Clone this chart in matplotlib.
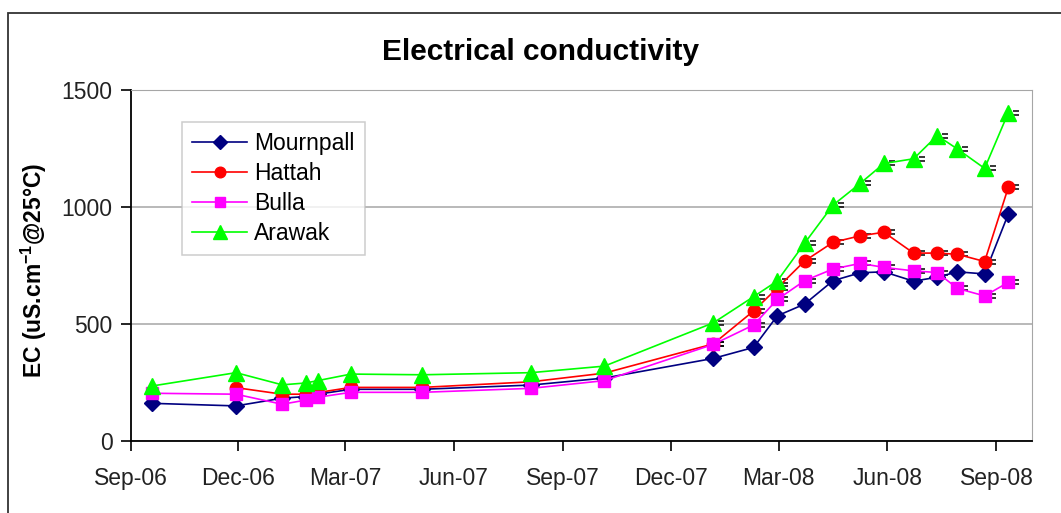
import matplotlib
matplotlib.use('Agg')
import matplotlib.pyplot as plt
import matplotlib.dates as mdates
from matplotlib.path import Path
from matplotlib.patches import Rectangle
from datetime import date
import numpy as np

plt.rcParams['font.family'] = ['Liberation Sans', 'DejaVu Sans']
plt.rcParams['mathtext.fontset'] = 'custom'
plt.rcParams['mathtext.rm'] = 'Liberation Sans:bold'
plt.rcParams['mathtext.bf'] = 'Liberation Sans:bold'

# sampling dates
datas = [date(2006, 9, 19), date(2006, 11, 29), date(2007, 1, 7), date(2007, 1, 27),
         date(2007, 2, 6), date(2007, 3, 6), date(2007, 5, 5), date(2007, 8, 5),
         date(2007, 10, 6), date(2008, 1, 6), date(2008, 2, 9), date(2008, 2, 29),
         date(2008, 3, 23), date(2008, 4, 16), date(2008, 5, 9), date(2008, 5, 29),
         date(2008, 6, 23), date(2008, 7, 13), date(2008, 7, 30), date(2008, 8, 22),
         date(2008, 9, 11)]

mournpall = [161, 150, 183, 190, 200, 221, 221, 239, 269, 353, 400, 535,
             585, 685, 719, 723, 683, 700, 723, 714, 970]
hattah = [np.nan, 228, 200, 200, 207, 229, 229, 253, 290, 415, 556, 654,
          769, 849, 877, 892, 803, 803, 798, 767, 1084]
bulla = [204, 200, 157, 175, 187, 208, 208, 225, 258, 413, 496, 605,
         685, 735, 759, 742, 727, 720, 652, 620, 678]
arawak = [235, 292, 240, 248, 258, 286, 283, 292, 320, 505, 617, 684,
          845, 1008, 1101, 1186, 1206, 1305, 1248, 1165, 1403]

series = [('Mournpall', mournpall, '#000080', 'D', 8.5),
          ('Hattah', hattah, '#ff0000', 'o', 9),
          ('Bulla', bulla, '#ff00ff', 's', 8),
          ('Arawak', arawak, '#00ff00', '^', 12)]

# small error-bar caps, seen only to the right of the markers
cap = Path([(0.45, 0.15), (1.0, 0.15), (0.45, -0.15), (1.0, -0.15)],
           [Path.MOVETO, Path.LINETO, Path.MOVETO, Path.LINETO])

fig = plt.figure(figsize=(10.61, 5.13), dpi=100)
ax = fig.add_axes([130.6 / 1061, 1 - 441 / 513, 901.4 / 1061, 351 / 513])

# outer chart frame
fig.patches.append(Rectangle((8 / 1061, -0.1), 1.2, 1 - 13 / 513 + 0.1,
                             transform=fig.transFigure, fill=False,
                             edgecolor='#333333', linewidth=1.3))

for nome, valores, cor, marcador, tam in series:
    if nome != 'Mournpall':
        ax.plot(datas, valores, linestyle='none', marker=cap, markersize=16,
                markeredgecolor='black', markeredgewidth=1.1,
                markevery=slice(9, None), zorder=2)
    ax.plot(datas, valores, color=cor, linewidth=1.2, marker=marcador,
            markersize=tam, markerfacecolor=cor, markeredgecolor=cor,
            label=nome, zorder=3)

ax.set_xlim(date(2006, 9, 1), date(2008, 10, 1))
ax.set_ylim(0, 1500)
ax.set_yticks([0, 500, 1000, 1500])
ax.xaxis.set_major_locator(mdates.MonthLocator(bymonth=[3, 6, 9, 12]))
ax.xaxis.set_major_formatter(mdates.DateFormatter('%b-%y'))

ax.grid(axis='y', color='#a6a6a6', linewidth=1.1)
ax.set_axisbelow(True)
ax.spines['top'].set_color('#a6a6a6')
ax.spines['right'].set_color('#a6a6a6')
ax.spines['left'].set_linewidth(1.3)
ax.spines['bottom'].set_linewidth(1.3)
ax.tick_params(axis='both', direction='out', length=7, width=1.2,
               labelsize=16.5, colors='black')
ax.tick_params(axis='x', pad=12)
ax.tick_params(axis='y', pad=6)
for t in ax.get_xticklabels() + ax.get_yticklabels():
    t.set_color('#222222')

fig.text(541 / 1061, 1 - 52 / 513, 'Electrical conductivity', ha='center',
         va='center', fontsize=21.5, fontweight='bold')
fig.text(34 / 1061, 1 - 270 / 513, r'EC (uS.cm$^{-1}$@25°C)', rotation=90,
         ha='center', va='center', fontsize=16.5, fontweight='bold')

leg = ax.legend(loc='upper left', bbox_to_anchor=((182 - 130.6) / 901.4, (441 - 122) / 351),
                borderaxespad=0, fontsize=16.5, frameon=True, fancybox=False,
                handlelength=2.4, handletextpad=0.3, borderpad=0.45,
                labelspacing=0.3, markerscale=0.85)
leg.get_frame().set_edgecolor('#c0c0c0')
leg.get_frame().set_linewidth(1.1)

fig.savefig('out.png', dpi=100)
